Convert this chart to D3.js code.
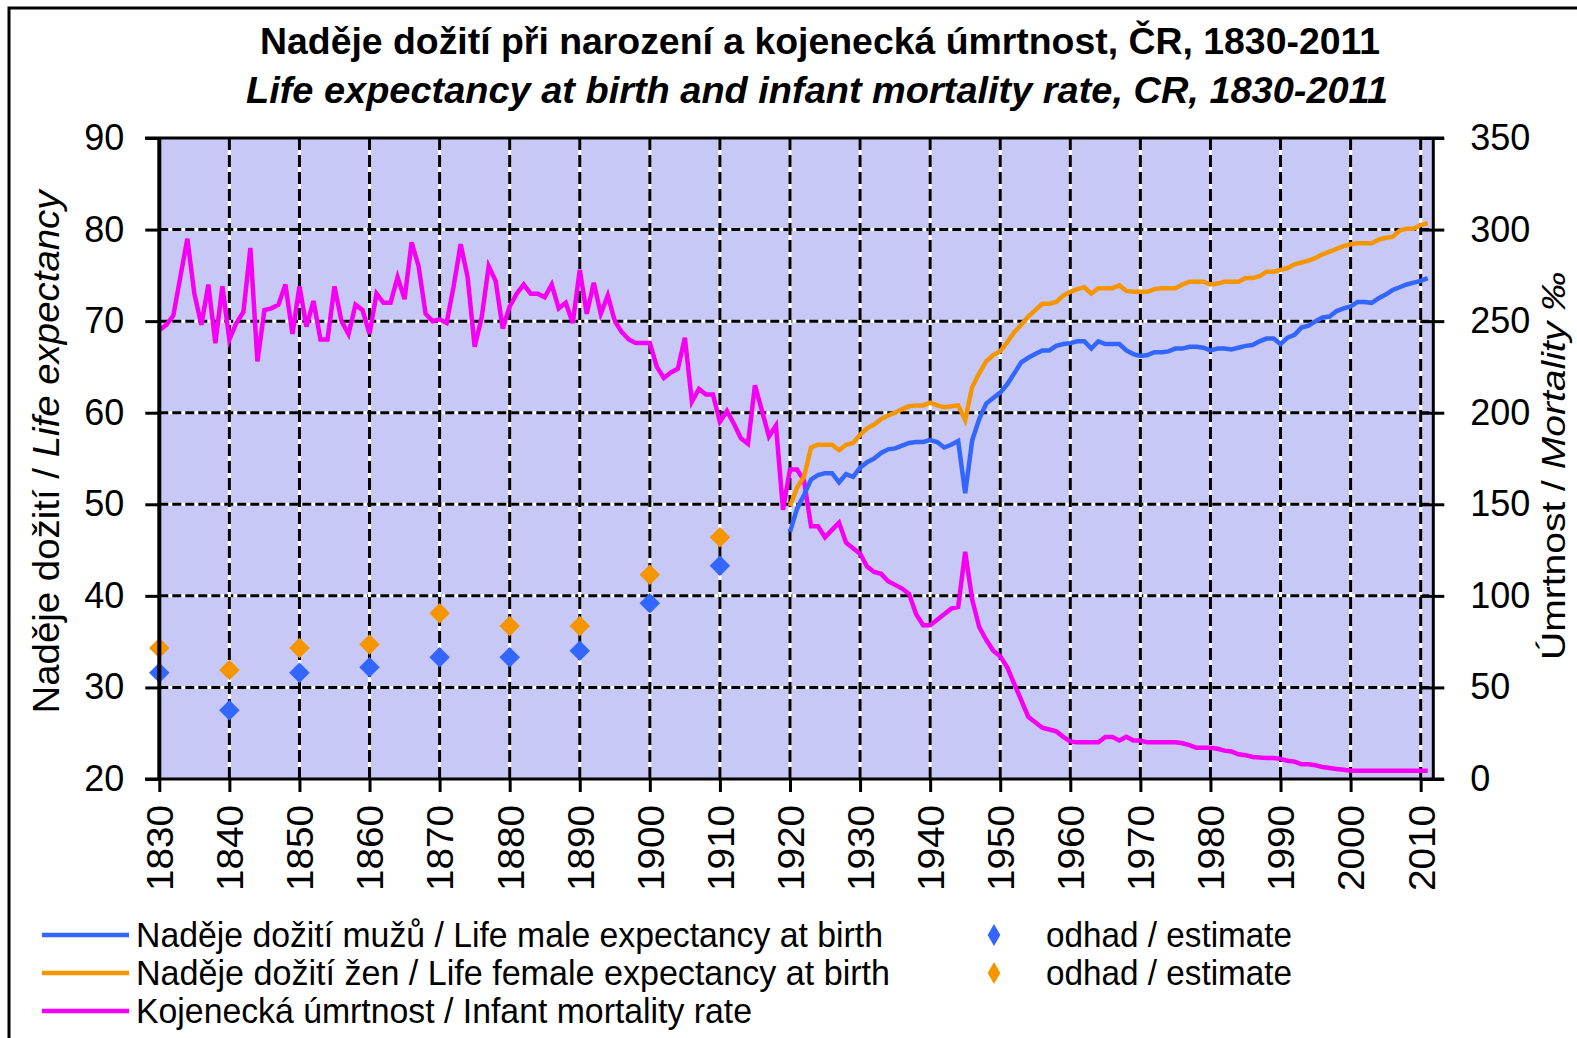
<!DOCTYPE html>
<html>
<head>
<meta charset="utf-8">
<script src="https://cdn.jsdelivr.net/npm/d3@7"></script>
<style>
  body { margin: 0; background: #fff; }
  svg { display: block; }
  text { font-family: "Liberation Sans", Arial, sans-serif; fill: #000; }
</style>
</head>
<body>
<div class="chart"></div>
<script>
// DATA ------------------------------------

// infant mortality (per 1000), yearly from 1830
const mortStart = 1830;
const infantMortality = [
  245,248,253,274,295,265,248,270,238,269,
  240,249,255,290,228,256,257,259,270,243,
  269,247,261,240,240,269,250,243,259,256,
  243,265,260,260,274,262,293,280,254,250,
  251,249,269,292,274,236,252,280,272,246,
  258,265,270,265,265,263,270,257,260,249,
  278,254,271,254,264,250,244,240,238,238,
  238,225,219,222,224,241,206,213,210,210,
  195,201,194,186,183,215,201,187,193,147,
  169,169,163,138,138,132,136,140,129,126,
  123,116,113,112,108,106,104,101,90,84,
  84,87,90,93,94,124,98,83,76,70,
  67,61,52,43,34,31,28,27,26,23,
  20.5,20,20,20,20,23,23,21,23,21,
  21,20,20,20,20,20,19.5,18.5,17,17,
  17,16.5,15.5,15,13.5,13,12,11.7,11.5,11.5,
  11,10,9.5,8,8,7.5,6.5,6,5.5,5,
  4.5,4.5,4.5,4.5,4.5,4.5,4.5,4.5,4.5,4.5,
  4.5,4.5
];

// life expectancy at birth, yearly from 1920
const leStart = 1920;
const maleLE = [
  47.0,49.5,51.0,52.7,53.2,53.4,53.4,52.4,53.3,53.0,
  54.0,54.6,55.0,55.6,56.0,56.1,56.4,56.7,56.8,56.8,
  57.0,56.8,56.2,56.5,56.9,51.2,57.0,59.3,61.0,61.6,
  62.2,63.1,64.3,65.5,66.0,66.4,66.8,66.8,67.3,67.5,
  67.6,67.8,67.8,67.0,67.8,67.5,67.5,67.5,66.8,66.4,
  66.2,66.3,66.6,66.6,66.7,67.0,67.0,67.2,67.2,67.1,
  66.8,67.0,67.0,66.9,67.1,67.3,67.4,67.8,68.1,68.1,
  67.5,68.2,68.5,69.3,69.5,70.0,70.4,70.5,71.1,71.4,
  71.6,72.1,72.1,72.0,72.5,72.9,73.4,73.7,74.0,74.2,
  74.4,74.7
];
const femaleLE = [
  49.8,51.8,53.0,56.2,56.5,56.5,56.5,55.9,56.5,56.7,
  57.6,58.3,58.7,59.3,59.7,60.0,60.4,60.7,60.8,60.8,
  61.1,60.8,60.6,60.7,60.8,59.2,62.8,64.3,65.6,66.3,
  66.7,67.7,68.8,69.6,70.5,71.2,71.9,71.9,72.1,72.8,
  73.2,73.5,73.7,73.0,73.6,73.6,73.6,73.9,73.3,73.2,
  73.2,73.2,73.5,73.6,73.6,73.6,74.0,74.3,74.3,74.3,
  74.0,74.1,74.3,74.3,74.3,74.7,74.7,74.9,75.4,75.4,
  75.6,75.8,76.2,76.4,76.6,76.9,77.3,77.6,77.9,78.2,
  78.4,78.5,78.5,78.5,78.9,79.1,79.2,79.9,80.1,80.1,
  80.5,80.7
];

// estimates (decades)
const estYears  = [1830,1840,1850,1860,1870,1880,1890,1900,1910];
const maleEst   = [31.6,27.5,31.6,32.2,33.3,33.3,34.0,39.2,43.3];
const femaleEst = [34.3,31.9,34.3,34.7,38.1,36.7,36.7,42.3,46.4];

// ticks
const yearTicks = [1830,1840,1850,1860,1870,1880,1890,1900,1910,1920,1930,
                   1940,1950,1960,1970,1980,1990,2000,2010];
const leTicks   = [20,30,40,50,60,70,80,90];
const mortTicks = [0,50,100,150,200,250,300,350];

const titleCz = "Naděje dožití při narození a kojenecká úmrtnost, ČR, 1830-2011";
const titleEn = "Life expectancy at birth and infant mortality rate, CR, 1830-2011";

const colMale = "#3366ff", colFemale = "#f59500", colMort = "#f500f5", bg = "#c8c8f6";

// CHART INIT ------------------------------

const width = 1577, height = 1038;
const plot = {left: 159.3, right: 1433.3, top: 138, bottom: 779};

const svg = d3.select(".chart").append("svg")
    .attr("width", width)
    .attr("height", height);

svg.append("rect").attr("width", width).attr("height", height).attr("fill", "#fff");
// outer frame (only left and top visible)
svg.append("rect")
    .attr("x", 9).attr("y", 8)
    .attr("width", 1600).attr("height", 1100)
    .attr("fill", "none").attr("stroke", "#000").attr("stroke-width", 3);

const xScale = d3.scaleLinear().domain([1830, 2011.8]).range([plot.left, plot.right]);
const yLeft  = d3.scaleLinear().domain([20, 90]).range([plot.bottom, plot.top]);
const yRight = d3.scaleLinear().domain([0, 350]).range([plot.bottom, plot.top]);

svg.append("rect")
    .attr("x", plot.left).attr("y", plot.top)
    .attr("width", plot.right - plot.left).attr("height", plot.bottom - plot.top)
    .attr("fill", bg);

// grid
const grid = svg.append("g").attr("class", "grid");
const hGrid = leTicks.filter(d => d > 20 && d < 90);
[["#fff", null], ["#000", "9,4"]].forEach(([c, dash]) => {
  grid.selectAll(null).data(hGrid).enter().append("line")
      .attr("x1", plot.left).attr("x2", plot.right)
      .attr("y1", d => yLeft(d)).attr("y2", d => yLeft(d))
      .attr("stroke", c).attr("stroke-width", 3)
      .attr("stroke-dasharray", dash);
});
const vGrid = yearTicks.filter(d => d > 1830);
[["#fff", null], ["#000", "12,5"]].forEach(([c, dash]) => {
  grid.selectAll(null).data(vGrid).enter().append("line")
      .attr("y1", plot.top).attr("y2", plot.bottom)
      .attr("x1", d => xScale(d)).attr("x2", d => xScale(d))
      .attr("stroke", c).attr("stroke-width", 3)
      .attr("stroke-dasharray", dash);
});

// lines
const mortData = infantMortality.map((v, i) => ({year: mortStart + i, v}));
const maleData = maleLE.map((v, i) => ({year: leStart + i, v}));
const femaleData = femaleLE.map((v, i) => ({year: leStart + i, v}));

const lineR = d3.line().x(d => xScale(d.year)).y(d => yRight(d.v));
const lineL = d3.line().x(d => xScale(d.year)).y(d => yLeft(d.v));

svg.append("path").datum(mortData)
    .attr("d", lineR).attr("fill", "none")
    .attr("stroke", colMort).attr("stroke-width", 4.5).attr("stroke-linejoin", "miter");
svg.append("path").datum(femaleData)
    .attr("d", lineL).attr("fill", "none")
    .attr("stroke", colFemale).attr("stroke-width", 4.5);
svg.append("path").datum(maleData)
    .attr("d", lineL).attr("fill", "none")
    .attr("stroke", colMale).attr("stroke-width", 4.5);

// estimate markers
const diamond = d3.symbol(d3.symbolSquare, 210);
[[femaleEst, colFemale], [maleEst, colMale]].forEach(([vals, c]) => {
  svg.selectAll(null).data(vals).enter().append("path")
      .attr("d", diamond)
      .attr("transform", (d, i) => `translate(${xScale(estYears[i])},${yLeft(d)}) rotate(45)`)
      .attr("fill", c);
});

// AXES ------------------------------------

const axisL = svg.append("g")
    .attr("transform", `translate(${plot.left},0)`)
    .call(d3.axisLeft(yLeft).tickValues(leTicks).tickSize(14).tickPadding(21));
axisL.select(".domain").remove();
axisL.selectAll(".tick line").attr("stroke-width", 3);
axisL.selectAll("text").attr("font-size", 36);

const axisR = svg.append("g")
    .attr("transform", `translate(${plot.right},0)`)
    .call(d3.axisRight(yRight).tickValues(mortTicks).tickSize(11).tickPadding(26));
axisR.select(".domain").remove();
axisR.selectAll(".tick line").attr("x1", -13).attr("stroke-width", 3);
axisR.selectAll("text").attr("font-size", 36);

const axisB = svg.append("g")
    .attr("transform", `translate(0,${plot.bottom})`)
    .call(d3.axisBottom(xScale).tickValues(yearTicks).tickFormat(d3.format("d")).tickSize(13));
axisB.select(".domain").remove();
axisB.selectAll(".tick line").attr("stroke-width", 3);
axisB.selectAll("text")
    .attr("font-size", 37)
    .attr("transform", "rotate(-90)")
    .attr("x", -26).attr("y", 0).attr("dy", "0.36em")
    .attr("text-anchor", "end")
    .attr("textLength", 86).attr("lengthAdjust", "spacingAndGlyphs");

// frame lines of the plot
const frame = svg.append("g").attr("stroke", "#000");
frame.append("line").attr("x1", 145).attr("x2", 1444)
    .attr("y1", plot.top).attr("y2", plot.top).attr("stroke-width", 3);
frame.append("line").attr("x1", 145).attr("x2", 1444)
    .attr("y1", plot.bottom).attr("y2", plot.bottom).attr("stroke-width", 3);
frame.append("line").attr("x1", plot.left).attr("x2", plot.left)
    .attr("y1", plot.top).attr("y2", plot.bottom).attr("stroke-width", 4);
frame.append("line").attr("x1", plot.right).attr("x2", plot.right)
    .attr("y1", plot.top).attr("y2", plot.bottom).attr("stroke-width", 3);

// TITLES ----------------------------------

svg.append("text")
    .attr("x", 820).attr("y", 54)
    .attr("text-anchor", "middle")
    .attr("font-size", 37).attr("font-weight", "bold")
    .attr("textLength", 1120).attr("lengthAdjust", "spacingAndGlyphs")
    .text(titleCz);
svg.append("text")
    .attr("x", 817).attr("y", 103)
    .attr("text-anchor", "middle")
    .attr("font-size", 37).attr("font-weight", "bold").attr("font-style", "italic")
    .attr("textLength", 1142).attr("lengthAdjust", "spacingAndGlyphs")
    .text(titleEn);

const yTitleL = svg.append("text")
    .attr("transform", "translate(46,452) rotate(-90)")
    .attr("text-anchor", "middle").attr("dy", "0.36em")
    .attr("font-size", 36)
    .attr("textLength", 523).attr("lengthAdjust", "spacingAndGlyphs");
yTitleL.append("tspan").text("Naděje dožití / ");
yTitleL.append("tspan").attr("font-style", "italic").text("Life expectancy");

const yTitleR = svg.append("text")
    .attr("transform", "translate(1553,466) rotate(-90)")
    .attr("text-anchor", "middle").attr("dy", "0.36em")
    .attr("font-size", 34)
    .attr("textLength", 388).attr("lengthAdjust", "spacingAndGlyphs");
yTitleR.append("tspan").text("Úmrtnost / ");
yTitleR.append("tspan").attr("font-style", "italic").text("Mortality ‰");

// LEGEND ----------------------------------

const legendLines = [
  {label: "Naděje dožití mužů / Life male expectancy at birth", color: colMale, y: 935, w: 747},
  {label: "Naděje dožití žen / Life female expectancy at birth", color: colFemale, y: 973, w: 754},
  {label: "Kojenecká úmrtnost / Infant mortality rate", color: colMort, y: 1011, w: 616}
];
const lg = svg.append("g").attr("class", "legend");
lg.selectAll("line").data(legendLines).enter().append("line")
    .attr("x1", 42).attr("x2", 129)
    .attr("y1", d => d.y).attr("y2", d => d.y)
    .attr("stroke", d => d.color).attr("stroke-width", 4.5);
lg.selectAll("text.lbl").data(legendLines).enter().append("text")
    .attr("class", "lbl")
    .attr("x", 136).attr("y", d => d.y + 12)
    .attr("font-size", 35)
    .attr("textLength", d => d.w).attr("lengthAdjust", "spacingAndGlyphs")
    .text(d => d.label);

const legendEst = [{color: colMale, y: 935}, {color: colFemale, y: 973}];
lg.selectAll("path").data(legendEst).enter().append("path")
    .attr("d", d3.symbol(d3.symbolDiamond, 140))
    .attr("transform", d => `translate(994,${d.y})`)
    .attr("fill", d => d.color);
lg.selectAll("text.est").data(legendEst).enter().append("text")
    .attr("class", "est")
    .attr("x", 1046).attr("y", d => d.y + 12)
    .attr("font-size", 35)
    .attr("textLength", 246).attr("lengthAdjust", "spacingAndGlyphs")
    .text("odhad / estimate");
</script>
</body>
</html>
